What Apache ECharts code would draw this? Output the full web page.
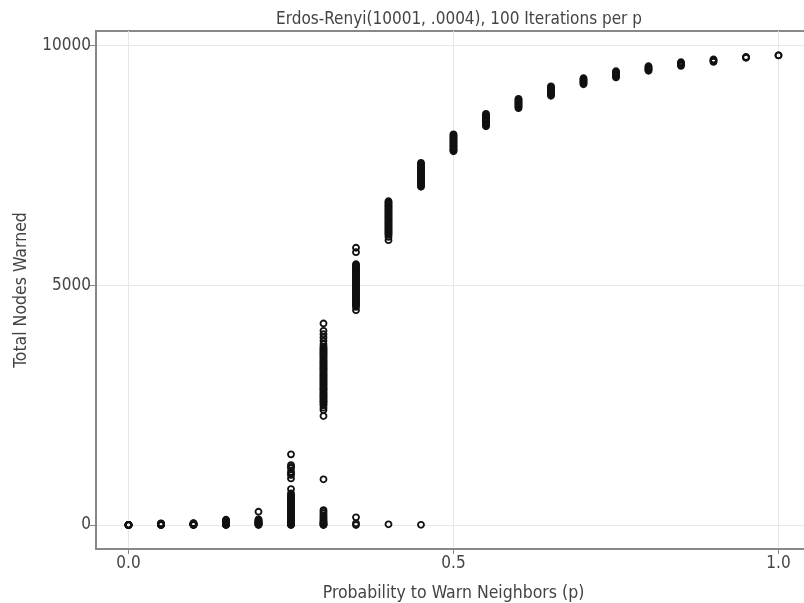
<!DOCTYPE html>
<html>
<head>
<meta charset="utf-8">
<script src="https://cdn.jsdelivr.net/npm/echarts@6/dist/echarts.min.js"></script>
<style>
html,body{margin:0;padding:0;background:#fff;}
#chart{width:804px;height:603px;}
</style>
</head>
<body>
<div id="chart"></div>
<script>
const pValues = [0, 0.05, 0.1, 0.15, 0.2, 0.25, 0.3, 0.35, 0.4, 0.45, 0.5, 0.55, 0.6, 0.65, 0.7, 0.75, 0.8, 0.85, 0.9, 0.95, 1.0];

const warned_p000 = [0, 1, 0, 2, 0, 3, 1, 0];
const warned_p005 = [0, 4, 9, 15, 22, 31, 12, 6, 36, 2];
const warned_p010 = [0, 6, 13, 18, 26, 33, 41, 9, 3, 21];
const warned_p015 = [0, 7, 15, 23, 32, 43, 52, 61, 74, 86, 98, 112, 5, 28];
const warned_p020 = [0, 9, 21, 30, 42, 51, 63, 77, 88, 101, 118, 277, 14, 36];
const warned_p025 = [1473, 1250, 1213, 1181, 1110, 1076, 1042, 972, 750, 660, 622, 600, 575, 550, 528, 505, 482, 460, 438, 415, 392, 370, 347, 325, 303, 281, 260, 238, 216, 195, 173, 152, 131, 110, 90, 70, 52, 35, 20, 8, 0];
const warned_p030 = [4202, 4048, 3979, 3910, 3840, 3771, 3715, 3688, 3660, 3634, 3607, 3581, 3558, 3530, 3503, 3477, 3447, 3422, 3398, 3373, 3352, 3324, 3296, 3272, 3251, 3226, 3204, 3175, 3147, 3125, 3102, 3075, 3049, 3022, 2996, 2975, 2953, 2925, 2898, 2871, 2846, 2824, 2803, 2775, 2747, 2725, 2702, 2676, 2651, 2625, 2598, 2576, 2553, 2522, 2496, 2447, 2396, 2271, 952, 312, 278, 241, 198, 166, 131, 102, 74, 52, 31, 14, 6, 0];
const warned_p035 = [5781, 5688, 5438, 5415, 5392, 5366, 5341, 5318, 5290, 5266, 5243, 5217, 5192, 5170, 5144, 5121, 5095, 5072, 5048, 5023, 4998, 4974, 4951, 4925, 4902, 4877, 4853, 4830, 4804, 4781, 4757, 4733, 4708, 4684, 4652, 4628, 4601, 4575, 4548, 4479, 160, 35, 0];
const warned_p040 = [6750, 6728, 6702, 6679, 6655, 6630, 6607, 6581, 6558, 6532, 6510, 6485, 6461, 6437, 6412, 6389, 6364, 6340, 6315, 6291, 6268, 6243, 6219, 6194, 6171, 6146, 6122, 6098, 6073, 6049, 6006, 5938, 15];
const warned_p045 = [7552, 7528, 7503, 7480, 7455, 7431, 7408, 7382, 7359, 7334, 7310, 7287, 7262, 7238, 7213, 7190, 7166, 7141, 7118, 7093, 7072, 7052, 5];
const warned_p050 = [8146, 8124, 8101, 8079, 8055, 8033, 8010, 7987, 7964, 7942, 7919, 7896, 7874, 7851, 7828, 7810, 7792];
const warned_p055 = [8573, 8551, 8530, 8507, 8486, 8463, 8442, 8420, 8398, 8377, 8355, 8334, 8313];
const warned_p060 = [8885, 8864, 8843, 8822, 8801, 8779, 8758, 8736, 8713, 8690];
const warned_p065 = [9146, 9125, 9104, 9083, 9061, 9040, 9018, 8995, 8971, 8948];
const warned_p070 = [9317, 9296, 9275, 9253, 9231, 9210, 9188];
const warned_p075 = [9462, 9441, 9420, 9398, 9376, 9355, 9333];
const warned_p080 = [9567, 9546, 9525, 9503, 9486, 9469];
const warned_p085 = [9650, 9631, 9612, 9592, 9573];
const warned_p090 = [9708, 9690, 9672, 9656];
const warned_p095 = [9760, 9750, 9740];
const warned_p100 = [9792, 9790];

const warnedByP = [warned_p000, warned_p005, warned_p010, warned_p015, warned_p020, warned_p025, warned_p030,
  warned_p035, warned_p040, warned_p045, warned_p050, warned_p055, warned_p060, warned_p065, warned_p070,
  warned_p075, warned_p080, warned_p085, warned_p090, warned_p095, warned_p100];

const xTickValues = [0, 0.5, 1.0];
const yTickValues = [0, 5000, 10000];

const titleText = 'Erdos-Renyi(10001, .0004), 100 Iterations per p';
const xName = 'Probability to Warn Neighbors (p)';
const yName = 'Total Nodes Warned';

const points = [];
pValues.forEach((p, i) => warnedByP[i].forEach(v => points.push([p, v])));

const chart = echarts.init(document.getElementById('chart'), null, {renderer: 'canvas'});
const txt = '#444';
const font = 'DejaVu Sans Condensed';
chart.setOption({
  animation: false,
  backgroundColor: '#fff',
  title: {
    text: titleText,
    left: 454, top: 6, textAlign: 'center',
    textStyle: {fontFamily: font, fontSize: 17, fontWeight: 'normal', color: txt}
  },
  grid: {
    left: 96, top: 31, width: 715, bottom: 54,
    outerBoundsMode: 'none', containLabel: false,
    show: true, borderColor: '#888', borderWidth: 2, backgroundColor: 'transparent'
  },
  xAxis: {
    type: 'value', min: -0.05, max: 1.05,
    name: xName, nameLocation: 'middle', nameGap: 35,
    nameTextStyle: {fontFamily: font, fontSize: 17.5, color: txt},
    axisLine: {show: true, onZero: false, lineStyle: {color: '#888', width: 2}},
    axisTick: {show: true, length: 5, customValues: xTickValues, lineStyle: {color: '#888', width: 1}},
    axisLabel: {show: true, customValues: xTickValues, margin: 6, fontFamily: font, fontSize: 17, color: txt,
      formatter: v => v.toFixed(1)},
    splitLine: {show: true, lineStyle: {color: '#e8e8e8', width: 1}}
  },
  yAxis: {
    type: 'value', min: -500, max: 10300,
    name: yName, nameLocation: 'middle', nameGap: 66,
    nameTextStyle: {fontFamily: font, fontSize: 17.5, color: txt},
    axisLine: {show: true, onZero: false, lineStyle: {color: '#888', width: 2}},
    axisTick: {show: true, length: 6, customValues: yTickValues, lineStyle: {color: '#888', width: 1}},
    axisLabel: {show: true, customValues: yTickValues, margin: 5, fontFamily: font, fontSize: 17, color: txt,
      formatter: v => String(v)},
    splitLine: {show: true, lineStyle: {color: '#e8e8e8', width: 1}}
  },
  series: [{
    type: 'scatter',
    data: points,
    symbol: 'circle',
    symbolSize: 6,
    itemStyle: {color: 'rgba(255,255,255,0)', borderColor: '#111', borderWidth: 1.8, opacity: 1},
    emphasis: {disabled: true},
    clip: true
  }]
});
</script>
</body>
</html>
